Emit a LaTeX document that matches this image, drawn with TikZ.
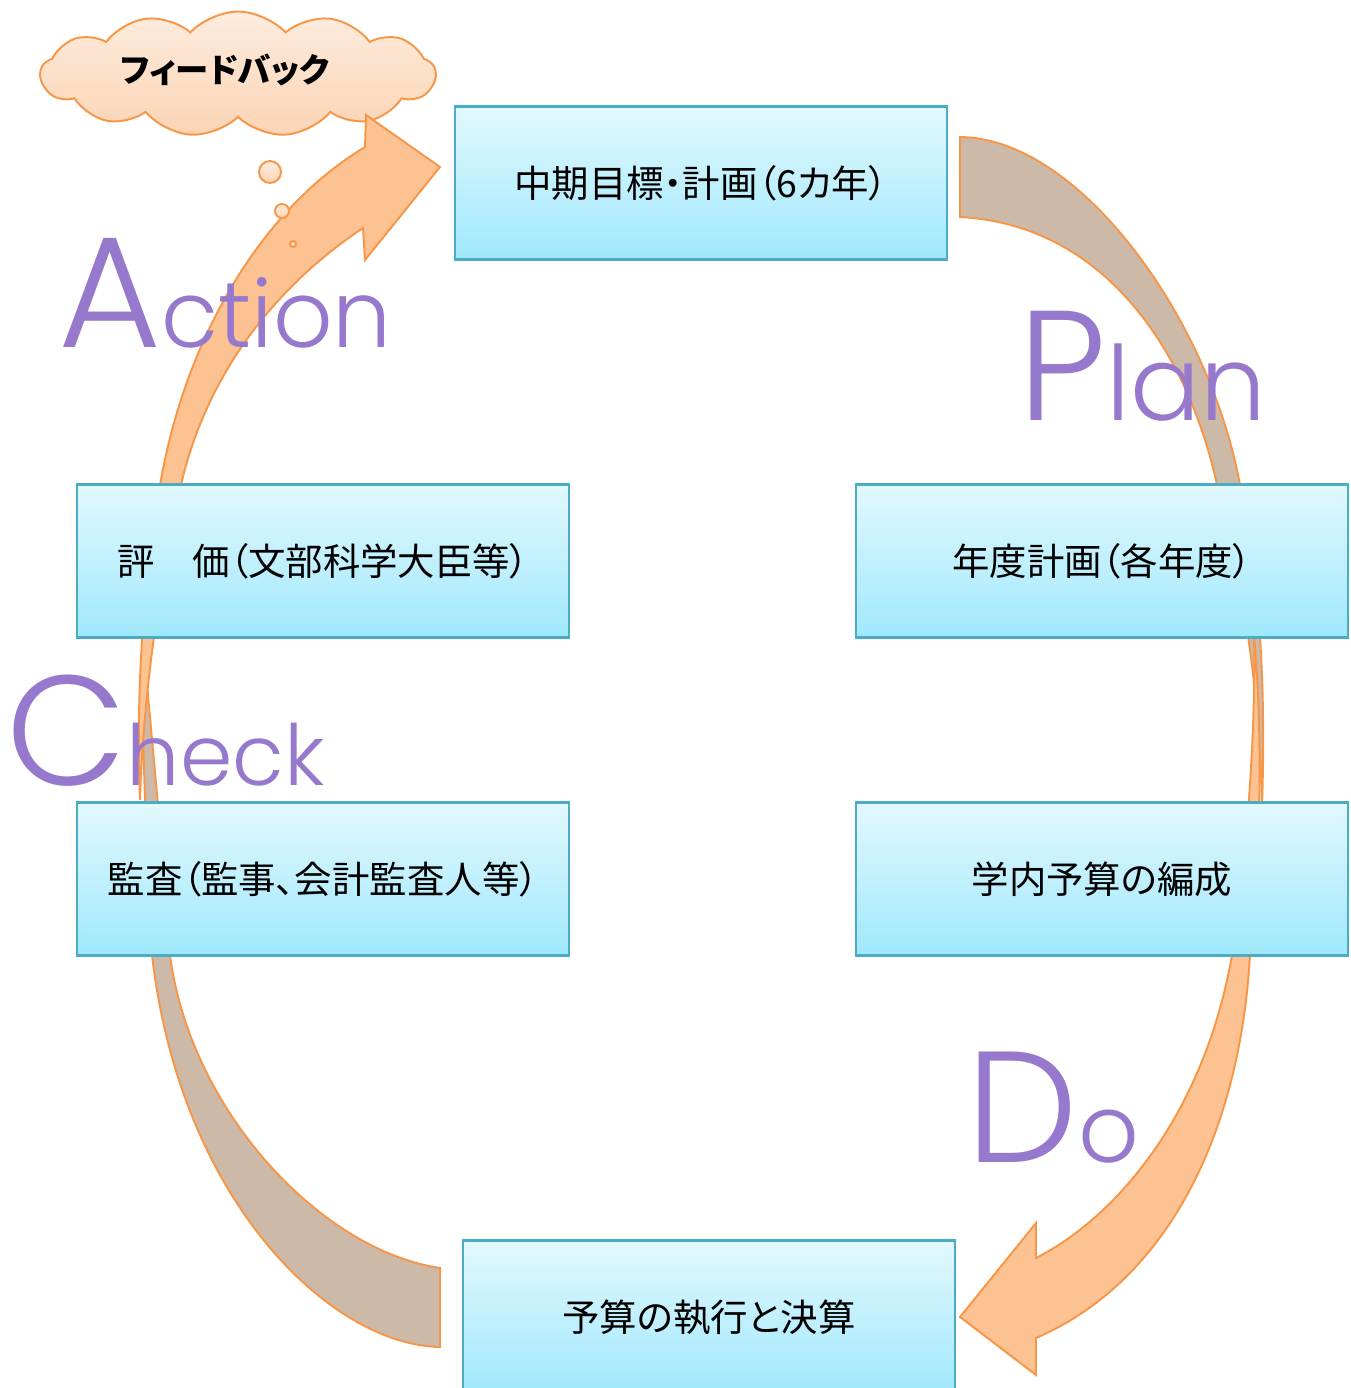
\documentclass[tikz,border=0pt]{standalone}
\usepackage{fontspec}
\usepackage{tikz}
\usetikzlibrary{shapes.symbols}
\newfontfamily\jpfont[RawFeature=+palt]{Noto Sans CJK JP}
\newfontfamily\pdcafont{Poppins Light}
\definecolor{boxline}{RGB}{75,172,198}
\definecolor{boxtop}{RGB}{226,248,254}
\definecolor{boxbot}{RGB}{160,232,252}
\definecolor{arrline}{RGB}{247,150,70}
\definecolor{arrfill}{RGB}{252,194,146}
\definecolor{bandfill}{RGB}{205,185,168}
\definecolor{cloudtop}{RGB}{253,236,222}
\definecolor{cloudbot}{RGB}{251,212,180}
\definecolor{pdcapurple}{RGB}{150,120,205}

\begin{document}
\begin{tikzpicture}[x=0.02cm,y=-0.02cm,
		box/.style={draw=boxline,line width=1.3pt,top color=boxtop,bottom color=boxbot,
			minimum width=9.84cm,minimum height=3.06cm,inner sep=0pt,
			font=\jpfont\fontsize{21.3}{25}\selectfont},
		band/.style={draw=arrline,line width=1.1pt,fill=bandfill},
		bigarr/.style={draw=arrline,line width=1.1pt,fill=arrfill},
		bubble/.style={draw=arrline,line width=1.1pt,top color=cloudtop,bottom color=cloudbot},
		pdca/.style={text=pdcapurple,anchor=base west,inner sep=0pt,font=\pdcafont}]
			\useasboundingbox (0,0) rectangle (1350,1388);
			
			\node[cloud,cloud puffs=13,cloud puff arc=95,cloud ignores aspect,bubble,
				minimum width=7.9cm,minimum height=2.5cm] (fb) at (238,74) {};
			\node[font=\jpfont\bfseries\fontsize{19}{22}\selectfont] (fbtext) at (225,70) {フィードバック};
			
			\draw[band] (960,137) .. controls (1080,138) and (1210,320) .. (1240,485)
				.. controls (1260,580) and (1266,690) .. (1262,805)
				.. controls (1260,700) and (1245,590) .. (1217,485)
				.. controls (1190,360) and (1110,225) .. (960,217) -- cycle;
			\draw[bigarr] (1254,636) .. controls (1262,720) and (1262,850) .. (1250,955)
				.. controls (1240,1130) and (1170,1280) .. (1036,1338)
				-- (1036,1375) -- (960,1317) -- (1036,1223) -- (1036,1258)
				.. controls (1120,1215) and (1205,1110) .. (1232,955)
				.. controls (1248,850) and (1256,720) .. (1254,636) -- cycle;
			\draw[band] (440,1347) .. controls (330,1345) and (180,1200) .. (152,955)
				.. controls (146,840) and (141,720) .. (143,640)
				.. controls (150,720) and (162,840) .. (170,955)
				.. controls (190,1110) and (320,1250) .. (440,1268) -- cycle;
			\draw[bigarr] (140,800) .. controls (136,700) and (142,590) .. (160,485)
				.. controls (185,340) and (260,210) .. (365,147)
				-- (366,115) -- (440,167) -- (365,260) -- (363,228)
				.. controls (270,290) and (205,380) .. (181,485)
				.. controls (158,590) and (143,700) .. (140,800) -- cycle;
			
			\foreach \n/\x/\y/\r in
			{b1/270/172/11, b2/282/211/7, b3/293/244/3}{
				\coordinate(\n) at (\x,\y);
				\draw[bubble] (\n) circle (\r);
			}
			
			\foreach \n/\x/\y/\t in
			{goal/701/183/{中期目標・計画（6カ年）},
			 eval/323/561/{評　価（文部科学大臣等）},
			 year/1102/561/{年度計画（各年度）},
			 audit/323/879/{監査（監事、会計監査人等）},
			 budget/1102/879/{学内予算の編成},
			 exec/709/1317/{予算の執行と決算}}{
				\node[box] (\n) at (\x,\y) {\t};
			}
			
			\node[pdca] (act) at (58,348) {\fontsize{90}{90}\selectfont A\fontsize{53}{53}\selectfont ction};
			\node[pdca] (plan) at (1018,420) {\fontsize{89}{89}\selectfont P\fontsize{59}{59}\selectfont lan};
			\node[pdca] (chk) at (6,785) {\fontsize{89}{89}\selectfont C\fontsize{48}{48}\selectfont heck};
			\node[pdca] (do) at (966,1162) {\fontsize{90}{90}\selectfont D\fontsize{54}{54}\selectfont o};
		\end{tikzpicture}
\end{document}
